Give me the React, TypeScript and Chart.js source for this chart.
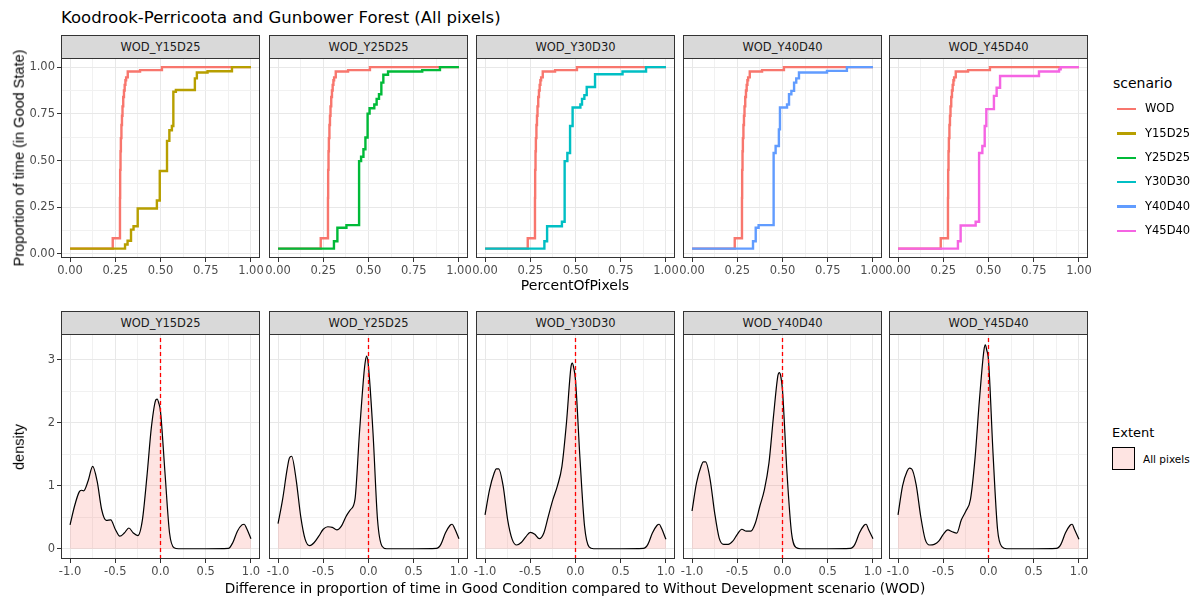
import React, { useEffect, useRef } from 'react';
import { Chart, registerables } from 'chart.js';

Chart.register(...registerables);

const SANS = "'DejaVu Sans', 'Liberation Sans', sans-serif";
const SANS_ROT = "'Liberation Sans', Arial, sans-serif";

// ---- facets and scenarios ----
const facetLabels = ['WOD_Y15D25', 'WOD_Y25D25', 'WOD_Y30D30', 'WOD_Y40D40', 'WOD_Y45D40'];
const scenarioNames = ['WOD', 'Y15D25', 'Y25D25', 'Y30D30', 'Y40D40', 'Y45D40'];
const scenarioColors = ['#F8766D', '#B79F00', '#00BA38', '#00BFC4', '#619CFF', '#F564E3'];

// ---- step curves: PercentOfPixels (x) vs proportion of time in good state (y) ----
const wodX = [0, 0.236, 0.276, 0.277, 0.279, 0.281, 0.284, 0.287, 0.29, 0.294, 0.298, 0.302, 0.306, 0.31, 0.319, 0.387, 0.508, 1.0];
const wodY = [0.028, 0.084, 0.3, 0.45, 0.55, 0.62, 0.69, 0.74, 0.79, 0.84, 0.875, 0.905, 0.93, 0.945, 0.977, 0.984, 1.0, 1.0];

const y15d25X = [0, 0.304, 0.318, 0.337, 0.351, 0.374, 0.48, 0.496, 0.536, 0.549, 0.563, 0.571, 0.585, 0.69, 0.701, 0.76, 0.895, 1.0];
const y15d25Y = [0.028, 0.05, 0.07, 0.13, 0.148, 0.243, 0.286, 0.444, 0.605, 0.662, 0.685, 0.868, 0.878, 0.94, 0.971, 0.978, 1.0, 1.0];

const y25d25X = [0, 0.309, 0.328, 0.378, 0.448, 0.459, 0.472, 0.483, 0.495, 0.506, 0.532, 0.545, 0.558, 0.571, 0.582, 0.608, 0.797, 0.895, 1.0];
const y25d25Y = [0.028, 0.068, 0.14, 0.154, 0.497, 0.52, 0.56, 0.623, 0.751, 0.78, 0.8, 0.83, 0.855, 0.917, 0.959, 0.977, 0.984, 1.0, 1.0];

const y30d30X = [0, 0.328, 0.343, 0.425, 0.44, 0.455, 0.47, 0.484, 0.527, 0.536, 0.549, 0.562, 0.608, 0.76, 0.89, 1.0];
const y30d30Y = [0.028, 0.068, 0.148, 0.172, 0.497, 0.54, 0.685, 0.784, 0.8, 0.83, 0.85, 0.894, 0.962, 0.977, 1.0, 1.0];

const y40d40X = [0, 0.337, 0.352, 0.368, 0.451, 0.462, 0.48, 0.486, 0.525, 0.536, 0.549, 0.564, 0.576, 0.591, 0.746, 0.856, 1.0];
const y40d40Y = [0.028, 0.068, 0.14, 0.154, 0.54, 0.578, 0.667, 0.784, 0.8, 0.855, 0.873, 0.917, 0.94, 0.971, 0.98, 1.0, 1.0];

const y45d40X = [0, 0.331, 0.346, 0.429, 0.448, 0.466, 0.479, 0.488, 0.53, 0.545, 0.564, 0.779, 0.89, 0.899, 1.0];
const y45d40Y = [0.028, 0.068, 0.152, 0.172, 0.54, 0.578, 0.685, 0.775, 0.846, 0.89, 0.953, 0.977, 0.988, 1.0, 1.0];

const scenarioX = [y15d25X, y25d25X, y30d30X, y40d40X, y45d40X];
const scenarioY = [y15d25Y, y25d25Y, y30d30Y, y40d40Y, y45d40Y];

// ---- density of the difference (scenario - WOD) ----
const diffX = [
  -1, -0.95, -0.9, -0.875, -0.85, -0.8, -0.75, -0.7, -0.65, -0.6, -0.55, -0.5,
  -0.45, -0.4, -0.35, -0.3, -0.25, -0.2, -0.15, -0.1, -0.05, -0.035, -0.02, 0,
  0.05, 0.1, 0.15, 0.2, 0.5, 0.75, 0.8, 0.85, 0.9, 0.925, 0.95, 1,
];
const densY15D25 = [
  0.38, 0.68, 0.9, 0.93, 0.92, 1.08, 1.31, 1.07, 0.62, 0.45, 0.46, 0.31,
  0.2, 0.25, 0.33, 0.25, 0.21, 0.46, 1.15, 1.94, 2.37, 2.38, 2.32, 2.18,
  1.2, 0.25, 0.015, 0, 0, 0.005, 0.1, 0.28, 0.38, 0.39, 0.33, 0.16,
];
const densY25D25 = [
  0.4, 0.78, 1.26, 1.44, 1.47, 1.1, 0.52, 0.15, 0.05, 0.1, 0.2, 0.31,
  0.35, 0.34, 0.3, 0.36, 0.51, 0.62, 0.78, 1.84, 2.79, 2.98, 3.06, 2.89,
  1.84, 0.46, 0.04, 0, 0, 0.005, 0.07, 0.25, 0.37, 0.39, 0.33, 0.16,
];
const densY30D30 = [
  0.54, 0.94, 1.2, 1.27, 1.27, 1.0, 0.46, 0.15, 0.06, 0.1, 0.19, 0.26,
  0.23, 0.16, 0.25, 0.52, 0.78, 1.0, 1.31, 2.0, 2.89, 2.95, 2.88, 2.68,
  1.42, 0.36, 0.03, 0, 0, 0.005, 0.07, 0.25, 0.37, 0.39, 0.33, 0.15,
];
const densY40D40 = [
  0.6, 1.05, 1.31, 1.38, 1.38, 1.1, 0.57, 0.17, 0.07, 0.07, 0.12, 0.23,
  0.31, 0.28, 0.28, 0.41, 0.68, 0.94, 1.36, 2.1, 2.76, 2.8, 2.75, 2.52,
  1.2, 0.25, 0.02, 0, 0, 0.005, 0.07, 0.25, 0.37, 0.39, 0.31, 0.16,
];
const densY45D40 = [
  0.54, 1.0, 1.23, 1.28, 1.27, 1.02, 0.52, 0.15, 0.06, 0.07, 0.12, 0.23,
  0.3, 0.27, 0.25, 0.46, 0.6, 0.78, 1.42, 2.37, 3.16, 3.24, 3.16, 3.0,
  1.52, 0.31, 0.03, 0, 0, 0.005, 0.07, 0.25, 0.37, 0.39, 0.31, 0.15,
];
const densities = [densY15D25, densY25D25, densY30D30, densY40D40, densY45D40];
const referenceDiff = 0; // dashed marker at no difference

// ---- axes ----
const pctTicks = [0, 0.25, 0.5, 0.75, 1];
const pctTickLabels = ['0.00', '0.25', '0.50', '0.75', '1.00'];
const diffTicks = [-1, -0.5, 0, 0.5, 1];
const diffTickLabels = ['-1.0', '-0.5', '0.0', '0.5', '1.0'];
const densTicks = [0, 1, 2, 3];
const densTickLabels = ['0', '1', '2', '3'];

const pctLimits = [-0.05, 1.05];
const propLimits = [-0.022, 1.049];
const diffLimits = [-1.1, 1.1];
const densLimits = [-0.1625, 3.4125];

// ---- layout (pixels) ----
const PANEL_LEFT = [61, 269, 476, 683, 889];
const PANEL_W = 199;
const Y_AXIS_W = 50;
const SIDE_PAD = 16;
const TOP_PAD = 12;
const X_AXIS_H = 24;
const TOP_PLOT = { top: 58, height: 200 };
const BOTTOM_PLOT = { top: 334, height: 225 };

const panelBorder = {
  id: 'panelBorder',
  afterDraw(chart: any) {
    const { ctx, chartArea: a } = chart;
    const l = Math.round(a.left);
    const t = Math.round(a.top);
    const r = Math.round(a.right);
    const b = Math.round(a.bottom);
    ctx.save();
    ctx.strokeStyle = '#333333';
    ctx.lineWidth = 1;
    ctx.strokeRect(l + 0.5, t + 0.5, r - l - 1, b - t - 1);
    ctx.restore();
  },
};

function near(a: number, b: number) {
  return Math.abs(a - b) < 1e-6;
}

function makeScale(
  axis: 'x' | 'y',
  lim: number[],
  step: number,
  ticks: number[],
  labels: string[],
  show: boolean,
  size: number,
) {
  const isMajor = (c: any) => !!c.tick && ticks.some((t) => near(t, c.tick.value));
  return {
    type: 'linear',
    min: lim[0],
    max: lim[1],
    afterFit: (s: any) => {
      if (axis === 'x') s.height = size;
      else s.width = size;
    },
    border: { display: false },
    grid: {
      color: (c: any) => (isMajor(c) ? '#E8E8E8' : '#F1F1F1'),
      lineWidth: 1,
      drawTicks: show,
      tickLength: 4,
      tickWidth: 1,
      tickColor: (c: any) => (isMajor(c) ? '#333333' : 'rgba(0,0,0,0)'),
    },
    ticks: {
      display: show,
      stepSize: step,
      includeBounds: false,
      autoSkip: false,
      maxRotation: 0,
      minRotation: 0,
      padding: 2,
      color: '#4D4D4D',
      font: { family: SANS, size: 11.5 },
      callback: (v: number) => {
        const k = ticks.findIndex((t) => near(t, v));
        return k >= 0 ? labels[k] : '';
      },
    },
  };
}

function toPoints(xs: number[], ys: number[]) {
  return xs.map((x, i) => ({ x, y: ys[i] }));
}

function Panel({ kind, idx }: { kind: 'ecdf' | 'density'; idx: number }) {
  const ref = useRef<HTMLCanvasElement | null>(null);
  const isEcdf = kind === 'ecdf';
  const plot = isEcdf ? TOP_PLOT : BOTTOM_PLOT;
  const leftSpace = idx === 0 ? Y_AXIS_W : SIDE_PAD;
  const cw = leftSpace + PANEL_W + SIDE_PAD;
  const ch = TOP_PAD + plot.height + X_AXIS_H;

  useEffect(() => {
    if (!ref.current) return;
    const datasets: any[] = isEcdf
      ? [
          {
            data: toPoints(wodX, wodY),
            borderColor: scenarioColors[0],
            borderWidth: 2.4,
            stepped: true,
            pointRadius: 0,
            fill: false,
            order: 1,
          },
          {
            data: toPoints(scenarioX[idx], scenarioY[idx]),
            borderColor: scenarioColors[idx + 1],
            borderWidth: 2.4,
            stepped: true,
            pointRadius: 0,
            fill: false,
            order: 0,
          },
        ]
      : [
          {
            data: toPoints(diffX, densities[idx]),
            borderColor: '#000000',
            borderWidth: 1.2,
            backgroundColor: 'rgba(248,118,109,0.2)',
            fill: 'origin',
            cubicInterpolationMode: 'monotone',
            pointRadius: 0,
            order: 1,
          },
          {
            data: [
              { x: referenceDiff, y: densLimits[0] },
              { x: referenceDiff, y: densLimits[1] },
            ],
            borderColor: '#FF0000',
            borderWidth: 1.3,
            borderDash: [4, 3],
            pointRadius: 0,
            fill: false,
            order: 0,
          },
        ];

    const xScale = isEcdf
      ? makeScale('x', pctLimits, 0.125, pctTicks, pctTickLabels, true, X_AXIS_H)
      : makeScale('x', diffLimits, 0.25, diffTicks, diffTickLabels, true, X_AXIS_H);
    const yScale = isEcdf
      ? makeScale('y', propLimits, 0.125, pctTicks, pctTickLabels, idx === 0, idx === 0 ? Y_AXIS_W : 0)
      : makeScale('y', densLimits, 0.5, densTicks, densTickLabels, idx === 0, idx === 0 ? Y_AXIS_W : 0);

    const chart = new Chart(ref.current, {
      type: 'line',
      data: { datasets },
      options: {
        animation: false,
        responsive: false,
        events: [],
        layout: {
          padding: { left: idx === 0 ? 0 : SIDE_PAD, right: SIDE_PAD, top: TOP_PAD, bottom: 0 },
        },
        plugins: {
          legend: { display: false },
          tooltip: { enabled: false },
          title: { display: false },
        },
        scales: { x: xScale as any, y: yScale as any },
      },
      plugins: [panelBorder],
    });
    return () => chart.destroy();
  }, [kind, idx]);

  return (
    <canvas
      ref={ref}
      width={cw}
      height={ch}
      style={{
        position: 'absolute',
        left: PANEL_LEFT[idx] - leftSpace,
        top: plot.top - TOP_PAD,
        width: cw,
        height: ch,
      }}
    />
  );
}

function Strip({ idx, top }: { idx: number; top: number }) {
  return (
    <div
      style={{
        position: 'absolute',
        left: PANEL_LEFT[idx],
        top,
        width: PANEL_W,
        height: 24,
        boxSizing: 'border-box',
        border: '1px solid #333333',
        background: '#D9D9D9',
        color: '#1A1A1A',
        font: `11.5px ${SANS}`,
        display: 'flex',
        alignItems: 'center',
        justifyContent: 'center',
        whiteSpace: 'nowrap',
      }}
    >
      {facetLabels[idx]}
    </div>
  );
}

function Text({
  x,
  y,
  size,
  children,
  center = false,
  rotate = false,
  family = SANS,
  color = '#000000',
}: {
  x: number;
  y: number;
  size: number;
  children: React.ReactNode;
  center?: boolean;
  rotate?: boolean;
  family?: string;
  color?: string;
}) {
  const tx = center || rotate ? '-50%' : '0';
  return (
    <div
      style={{
        position: 'absolute',
        left: x,
        top: y,
        fontFamily: family,
        fontSize: size,
        lineHeight: 1,
        color,
        whiteSpace: 'nowrap',
        transform: `translate(${tx}, -50%)${rotate ? ' rotate(-90deg)' : ''}`,
      }}
    >
      {children}
    </div>
  );
}

export default function App() {
  return (
    <div
      style={{
        position: 'absolute',
        left: 0,
        top: 0,
        width: 1199,
        height: 601,
        background: '#FFFFFF',
        overflow: 'hidden',
      }}
    >
      <Text x={61} y={17.8} size={16.5}>
        Koodrook-Perricoota and Gunbower Forest (All pixels)
      </Text>

      {facetLabels.map((_, i) => (
        <Strip key={'st' + i} idx={i} top={35} />
      ))}
      {facetLabels.map((_, i) => (
        <Panel key={'ec' + i} kind="ecdf" idx={i} />
      ))}
      <Text x={19} y={158} size={14.5} rotate family={SANS_ROT}>
        Proportion of time (in Good State)
      </Text>
      <Text x={575} y={285} size={14} center>
        PercentOfPixels
      </Text>

      {facetLabels.map((_, i) => (
        <Strip key={'sb' + i} idx={i} top={311} />
      ))}
      {facetLabels.map((_, i) => (
        <Panel key={'de' + i} kind="density" idx={i} />
      ))}
      <Text x={19} y={447} size={14.5} rotate family={SANS_ROT}>
        density
      </Text>
      <Text x={575} y={588.5} size={13.7} center>
        Difference in proportion of time in Good Condition compared to Without Development scenario (WOD)
      </Text>

      {/* scenario legend */}
      <Text x={1113} y={83} size={14}>
        scenario
      </Text>
      {scenarioNames.map((name, k) => (
        <React.Fragment key={name}>
          <div
            style={{
              position: 'absolute',
              left: 1117,
              top: 109.3 + k * 24.3 - 1.2,
              width: 19,
              height: 2.4,
              background: scenarioColors[k],
            }}
          />
          <Text x={1145} y={109.3 + k * 24.3} size={11.5}>
            {name}
          </Text>
        </React.Fragment>
      ))}

      {/* extent legend */}
      <Text x={1112} y={432} size={13}>
        Extent
      </Text>
      <div
        style={{
          position: 'absolute',
          left: 1112,
          top: 447,
          width: 23,
          height: 23,
          boxSizing: 'border-box',
          border: '1px solid #000000',
          background: 'rgba(248,118,109,0.2)',
        }}
      />
      <Text x={1143} y={459} size={10.5}>
        All pixels
      </Text>
    </div>
  );
}
